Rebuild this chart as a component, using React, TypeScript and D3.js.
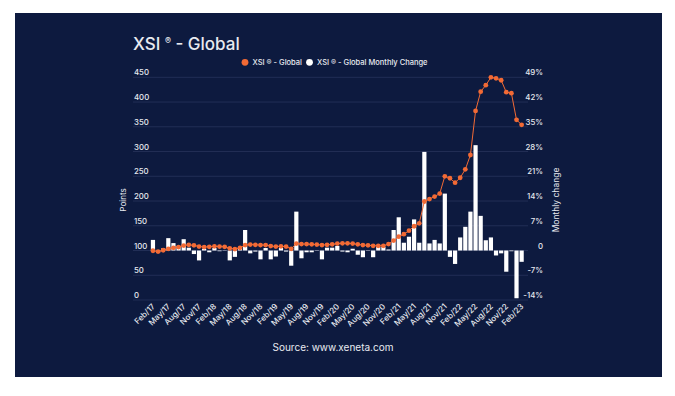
import React from "react";
import * as d3 from "d3";

// months Feb/17 .. Feb/23
const months = d3.timeMonths(new Date(2017, 1, 1), new Date(2023, 2, 1));
const fmt = d3.timeFormat("%b/%y");

const xsiGlobal = [
  99.5, 97.8, 100.5, 103.5, 105.5, 107, 110, 111.5, 110.5, 108, 107, 107.5,
  108.5, 108, 107.5, 104.5, 103, 105.5, 111, 112, 111.5, 111, 111, 109,
  108, 108.5, 108, 103.5, 114, 113, 113, 112.5, 112, 111, 111.5, 112.5,
  114, 114.5, 114.5, 114, 112.5, 111, 110.5, 109.5, 109.5, 109.5, 113, 120,
  128, 133, 140, 149, 155, 199, 204, 209, 215, 250, 246, 237,
  247, 264, 293, 382, 421, 434, 450, 448, 444, 420, 418, 364, 354,
];

const monthlyChange = [
  3.0, -0.6, 0.6, 3.5, 2.1, 1.3, 3.2, 0.8, -1.0, -2.8, 0.5, -0.5,
  0.7, -0.2, 0.1, -2.8, -1.8, 0.8, 5.8, -0.8, -0.3, -2.5, 0.7, -2.5,
  -1.7, 0.7, -0.3, -4.3, 11.0, -2.2, -0.5, -0.5, 0.1, -2.5, 0.8, 0.8,
  1.3, -0.3, -0.5, 0.5, -1.2, -1.9, 0.1, -1.9, 1.0, 1.0, 0.3, 5.8,
  9.4, 2.2, 3.9, 8.8, 2.2, 27.9, 2.0, 3.0, 2.0, 16.1, -1.8, -3.8,
  3.7, 6.7, 11.0, 29.8, 9.8, 2.9, 3.7, -1.4, -0.8, -6.0, -0.2, -13.5, -3.2,
];

const leftTicks = [0, 50, 100, 150, 200, 250, 300, 350, 400, 450];
const rightTicks = [-14, -7, 0, 7, 14, 21, 28, 35, 42, 49];

const BG = "#0d1a3f";
const GRID = "#27335c";
const ORANGE = "#f26a35";
const TEXT = "#e8eaf0";
const FONT = "Inter, 'Open Sans', sans-serif";

export default function App() {
  const labels = months.map((d) => fmt(d));

  const x = d3.scaleBand<string>()
    .domain(labels)
    .range([150.4, 524.2])
    .paddingInner(0.18)
    .paddingOuter(0.09);
  const yLeft = d3.scaleLinear().domain([0, 450]).range([300, 77.3]);
  const yRight = d3.scaleLinear().domain([-14, 49]).range([300, 77.3]);
  const cx = (i: number) => (x(labels[i]) as number) + x.bandwidth() / 2;

  const line = d3.line<number>()
    .x((_, i) => cx(i))
    .y((d) => yLeft(d));

  return (
    <svg width={675} height={396} style={{ position: "absolute", left: 0, top: 0, background: "#fff" }}
      fontFamily={FONT}>
      <rect x={15} y={13} width={647} height={364} fill={BG} />

      <text x={133} y={50} fill={TEXT} fontSize={17} fontWeight={500}>
        XSI <tspan fontSize={9} dy={-6}>®</tspan><tspan dy={6}> - Global</tspan>
      </text>

      {/* legend */}
      <g fontSize={7.5} fontWeight={500} fill={TEXT}>
        <circle cx={245} cy={62.3} r={3.4} fill={ORANGE} />
        <text x={252.5} y={65}>XSI ® - Global</text>
        <circle cx={309.5} cy={62.3} r={3.4} fill="#ffffff" />
        <text x={317} y={65}>XSI ® - Global Monthly Change</text>
      </g>

      {/* grid */}
      {leftTicks.map((t) => (
        <line key={t} x1={133} x2={528} y1={yLeft(t)} y2={yLeft(t)} stroke={GRID} strokeWidth={0.8} />
      ))}
      {leftTicks.map((t) => (
        <text key={"l" + t} x={134} y={yLeft(t) - 2} fill={TEXT} fontSize={7.8} fontWeight={500}>{t}</text>
      ))}
      {rightTicks.map((t) => (
        <text key={"r" + t} x={543} y={yRight(t) - 2} fill={TEXT} fontSize={7.8} fontWeight={500} textAnchor="end">
          {t === 0 ? "0" : t + "%"}
        </text>
      ))}

      <text transform="translate(126,200) rotate(-90)" textAnchor="middle" fill={TEXT} fontSize={8}>Points</text>
      <text transform="translate(559,200) rotate(-90)" textAnchor="middle" fill={TEXT} fontSize={8.5}>Monthly change</text>

      {/* bars */}
      {monthlyChange.map((v, i) => (
        <rect key={"b" + i}
          x={x(labels[i])}
          width={x.bandwidth()}
          y={Math.min(yRight(v), yRight(0))}
          height={Math.abs(yRight(v) - yRight(0))}
          fill="#ffffff" />
      ))}

      {/* index line */}
      <path d={line(xsiGlobal) || ""} fill="none" stroke={ORANGE} strokeWidth={1} />
      {xsiGlobal.map((v, i) => (
        <circle key={"p" + i} cx={cx(i)} cy={yLeft(v)} r={2.4} fill={ORANGE} />
      ))}

      {/* x labels */}
      {labels.map((l, i) => i % 3 === 0 ? (
        <text key={"x" + i} transform={`translate(${cx(i) + 2.5},${307}) rotate(-45)`}
          textAnchor="end" fill={TEXT} fontSize={8} fontWeight={500}>{l}</text>
      ) : null)}

      <text x={333} y={351} textAnchor="middle" fill={TEXT} fontSize={10}>Source: www.xeneta.com</text>
    </svg>
  );
}
